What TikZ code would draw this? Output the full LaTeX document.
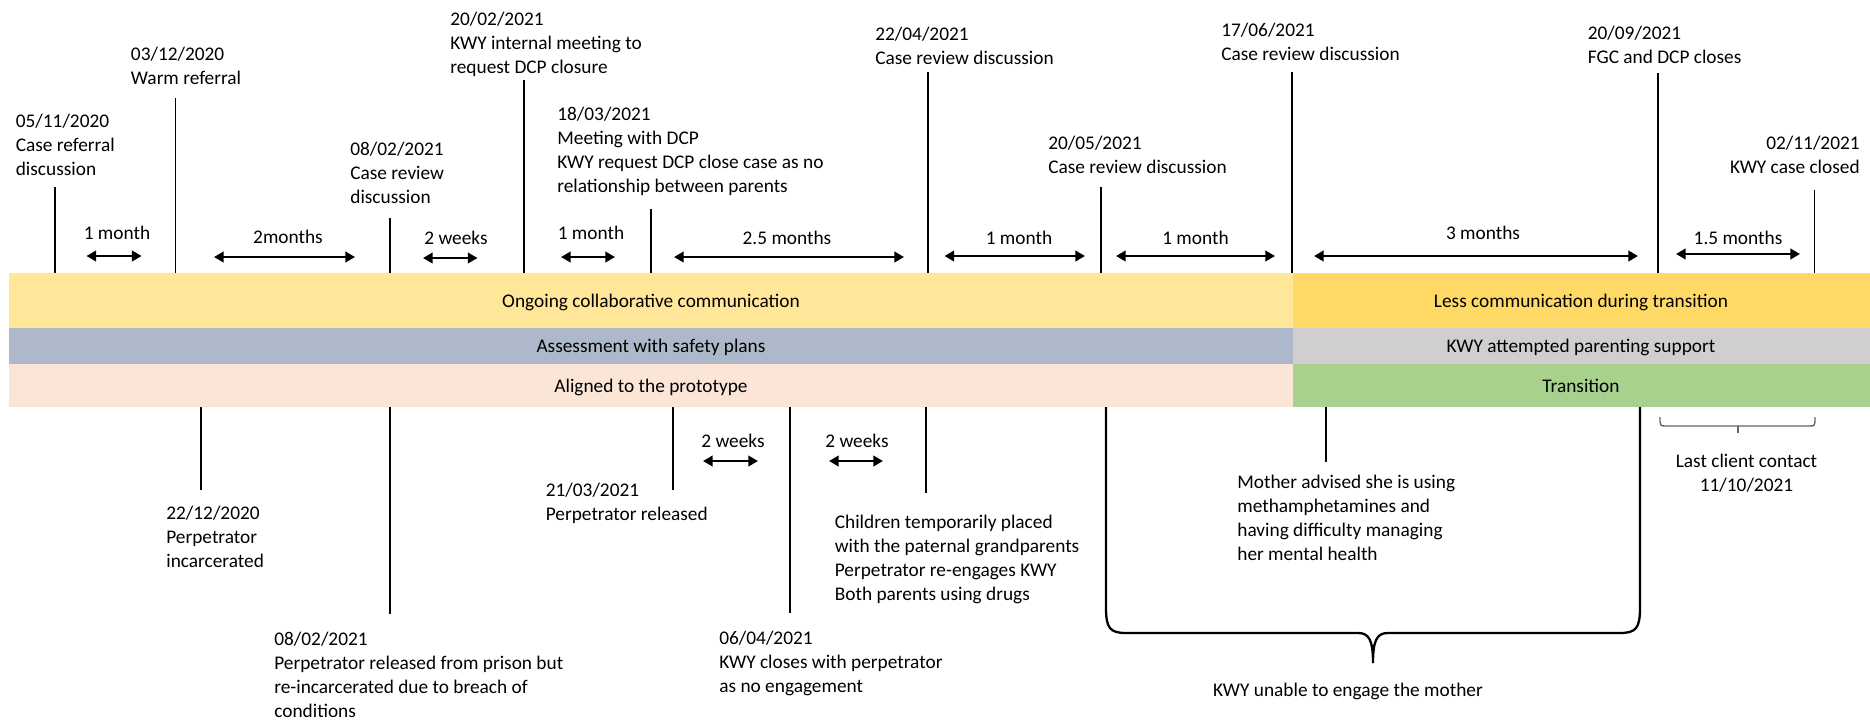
\documentclass[tikz,border=0pt]{standalone}
\usepackage{fontspec}
\setmainfont{Carlito}
\usepackage{xcolor}
\usetikzlibrary{arrows.meta}

\definecolor{commlight}{HTML}{FFE699}
\definecolor{commdark}{HTML}{FFD966}
\definecolor{assessblue}{HTML}{ADB9CA}
\definecolor{supportgray}{HTML}{D0CECE}
\definecolor{protopeach}{HTML}{FBE5D6}
\definecolor{transgreen}{HTML}{A9D18E}

\begin{document}
\begin{tikzpicture}[x=0.02cm, y=-0.02cm, font=\fontsize{11pt}{13.66pt}\selectfont,
  tickline/.style={line width=1.1pt},
  gap/.style={line width=1.3pt, {Triangle[length=5.5pt,width=6pt]}-{Triangle[length=5.5pt,width=6pt]}},
  note/.style={anchor=north west, align=left, inner sep=0pt},
  span/.style={anchor=base, inner sep=0pt}]
\useasboundingbox (0,0) rectangle (1870,721);

% bands
\fill[commlight] (9,273) rectangle (1293,328);
\fill[assessblue] (9,328) rectangle (1293,364);
\fill[protopeach] (9,364) rectangle (1293,407);
\fill[commdark] (1293,273) rectangle (1870,328);
\fill[supportgray] (1293,328) rectangle (1870,364);
\fill[transgreen] (1293,364) rectangle (1870,407);
\node[span] (comm) at (651,307) {Ongoing collaborative communication};
\node[span] (assess) at (651,352) {Assessment with safety plans};
\node[span] (proto) at (651,392) {Aligned to the prototype};
\node[span] (less) at (1581,307) {Less communication during transition};
\node[span] (support) at (1581,352) {KWY attempted parenting support};
\node[span] (trans) at (1581,392) {Transition};

% events above
\draw[tickline] (55,187) -- (55,273);
\node[note] (referral) at (15.5,113.5) {05/11/2020\\Case referral\\discussion};
\draw[tickline] (175.5,98) -- (175.5,273);
\node[note] (warm) at (130.6,46.5) {03/12/2020\\Warm referral};
\draw[tickline] (390,218) -- (390,273);
\node[note] (review1) at (350,141.5) {08/02/2021\\Case review\\discussion};
\draw[tickline] (524,80) -- (524,273);
\node[note] (internal) at (450,11.5) {20/02/2021\\KWY internal meeting to\\request DCP closure};
\draw[tickline] (651,209) -- (651,273);
\node[note] (dcpmeet) at (557,106.5) {18/03/2021\\Meeting with DCP\\KWY request DCP close case as no\\relationship between parents};
\draw[tickline] (928,72) -- (928,273);
\node[note] (review2) at (875,26.5) {22/04/2021\\Case review discussion};
\draw[tickline] (1101,187) -- (1101,273);
\node[note] (review3) at (1048,135.5) {20/05/2021\\Case review discussion};
\draw[tickline] (1292,72) -- (1292,273);
\node[note] (review4) at (1221,22.5) {17/06/2021\\Case review discussion};
\draw[tickline] (1658,73) -- (1658,273);
\node[note] (fgc) at (1587.5,25.5) {20/09/2021\\FGC and DCP closes};
\draw[tickline] (1814.5,190) -- (1814.5,273);
\node[note, anchor=north east, align=right] (closed) at (1860,135.5) {02/11/2021\\KWY case closed};

% intervals above
\draw[gap] (86.5,256) -- (141.6,256);
\node[span] (g1) at (117,239) {1 month};
\draw[gap] (214,257) -- (355,257);
\node[span] (g2) at (288,243) {2months};
\draw[gap] (423,258) -- (477.5,258);
\node[span] (g3) at (456,244) {2 weeks};
\draw[gap] (561,257) -- (615,257);
\node[span] (g4) at (591,239) {1 month};
\draw[gap] (674,257) -- (904,257);
\node[span] (g5) at (787,244) {2.5 months};
\draw[gap] (944.5,256) -- (1085,256);
\node[span] (g6) at (1019,244) {1 month};
\draw[gap] (1116,256) -- (1275,256);
\node[span] (g7) at (1195.5,244) {1 month};
\draw[gap] (1314,256) -- (1638,256);
\node[span] (g8) at (1483,239) {3 months};
\draw[gap] (1676,254) -- (1800,254);
\node[span] (g9) at (1738,244) {1.5 months};

% events below
\draw[tickline] (201,407) -- (201,490);
\node[note] (jail) at (166,505.5) {22/12/2020\\Perpetrator\\incarcerated};
\draw[tickline] (390,407) -- (390,614);
\node[note] (rejail) at (274,631.5) {08/02/2021\\Perpetrator released from prison but\\re-incarcerated due to breach of\\conditions};
\draw[tickline] (673,407) -- (673,490);
\node[note] (release) at (545.5,482.5) {21/03/2021\\Perpetrator released};
\draw[tickline] (790,407) -- (790,613);
\node[note] (kwyclose) at (719,630.5) {06/04/2021\\KWY closes with perpetrator\\as no engagement};
\draw[tickline] (926,407) -- (926,493);
\node[note] (placed) at (834.5,515) {Children temporarily placed\\with the paternal grandparents\\Perpetrator re-engages KWY\\Both parents using drugs};
\draw[tickline] (1326,407) -- (1326,462);
\node[note] (mother) at (1237,475) {Mother advised she is using\\methamphetamines and\\having difficulty managing\\her mental health};

% intervals below
\draw[gap] (703,461) -- (758,461);
\node[span] (g10) at (733,447) {2 weeks};
\draw[gap] (829,461) -- (883,461);
\node[span] (g11) at (857,447) {2 weeks};

% braces
\draw[line width=1.3pt] (1106,407) -- (1106,608)
  .. controls (1106,628) and (1110,633) .. (1126,633) -- (1358,633)
  .. controls (1369,633) and (1373,640) .. (1373,663)
  .. controls (1373,640) and (1377,633) .. (1388,633) -- (1620,633)
  .. controls (1636,633) and (1640,628) .. (1640,608) -- (1640,407);
\node[span] (unable) at (1348,696) {KWY unable to engage the mother};
\draw[black!60, line width=0.8pt] (1660,417) -- (1660,422)
  .. controls (1660,425) and (1661,426) .. (1665,426) -- (1810,426)
  .. controls (1814,426) and (1815,425) .. (1815,422) -- (1815,417);
\draw[black!60, line width=0.8pt] (1738,426) -- (1738,433);
\node[note, anchor=north, align=center] (contact) at (1746.5,454) {Last client contact\\11/10/2021};
\end{tikzpicture}
\end{document}
